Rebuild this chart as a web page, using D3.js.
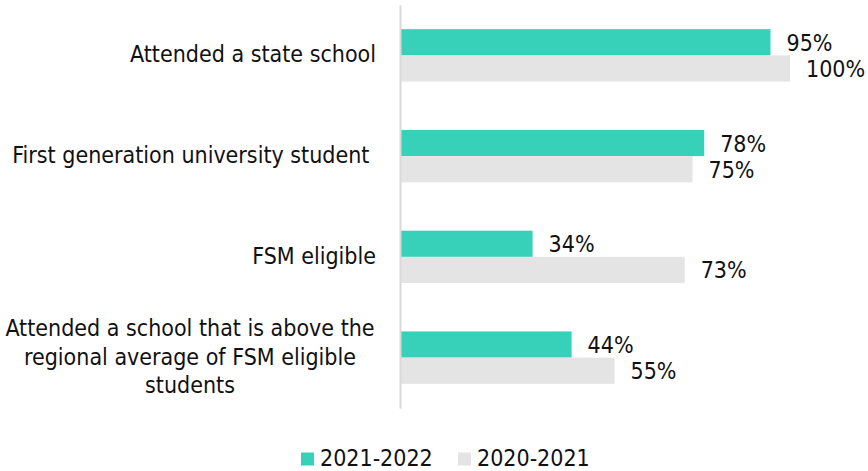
<!DOCTYPE html>
<html>
<head>
<meta charset="utf-8">
<script src="https://cdn.jsdelivr.net/npm/d3@7"></script>
<style>
  html, body { margin: 0; padding: 0; background: #ffffff; }
  svg { display: block; }
  text { font-family: "DejaVu Sans Condensed", "DejaVu Sans", sans-serif; fill: #111111; }
</style>
</head>
<body>
<svg id="chart" width="868" height="471"></svg>
<script>
// Category labels (each entry is a list of wrapped lines)
const categories = [
  ["Attended a state school"],
  ["First generation university student "],
  ["FSM eligible"],
  ["Attended a school that is above the", "regional average of FSM eligible", "students"]
];
const seriesNames = ["2021-2022", "2020-2021"];
const values2122 = [95, 78, 34, 44];
const values2021 = [100, 75, 73, 55];
const seriesColors = ["#37d0b9", "#e4e4e4"];

const catKeys = categories.map((c, i) => "c" + i);
const seriesValues = [values2122, values2021];

const svg = d3.select("#chart");
const fontSize = 23;

const x = d3.scaleLinear().domain([0, 100]).range([400, 790]);
const y = d3.scaleBand().domain(catKeys).range([5, 408])
  .paddingInner(0.48).paddingOuter(0.24);
const ySub = d3.scaleBand().domain(seriesNames).range([0, y.bandwidth()]);

// Bars
const groups = svg.append("g").selectAll("g")
  .data(catKeys)
  .join("g")
  .attr("transform", d => `translate(0,${y(d)})`);

groups.each(function (key, ci) {
  const g = d3.select(this);
  const rows = seriesNames.map((s, si) => ({ s, si, v: seriesValues[si][ci] }));
  g.selectAll("rect")
    .data(rows)
    .join("rect")
    .attr("x", x(0))
    .attr("y", d => ySub(d.s))
    .attr("width", d => x(d.v) - x(0))
    .attr("height", ySub.bandwidth())
    .attr("fill", d => seriesColors[d.si]);
  g.selectAll("text.val")
    .data(rows)
    .join("text")
    .attr("class", "val")
    .attr("x", d => x(d.v) + 16)
    .attr("y", d => ySub(d.s) + ySub.bandwidth() / 2 + 8.5)
    .attr("font-size", fontSize)
    .text(d => d.v + "%");
});

// Vertical category axis line
const axis = svg.append("g")
  .attr("transform", `translate(${x(0)},0)`)
  .call(d3.axisLeft(y).tickSize(0).tickSizeOuter(0).tickFormat(""));
axis.select(".domain").attr("stroke", "#d9d9d9").attr("stroke-width", 2);

// Category labels
const lineH = 28.5;
catKeys.forEach((key, ci) => {
  const lines = categories[ci];
  const cy = y(key) + y.bandwidth() / 2;
  const multi = lines.length > 1;
  const t = svg.append("text")
    .attr("font-size", fontSize)
    .attr("text-anchor", multi ? "middle" : "end")
    .attr("xml:space", "preserve")
    .style("white-space", "pre");
  lines.forEach((ln, li) => {
    t.append("tspan")
      .attr("x", multi ? 190 : 376)
      .attr("y", cy + 7 + (li - (lines.length - 1) / 2) * lineH)
      .text(ln);
  });
});

// Legend
const legend = svg.append("g").attr("transform", "translate(0,452)");
const legendX = [301, 458];
seriesNames.forEach((s, i) => {
  legend.append("rect")
    .attr("x", legendX[i]).attr("y", 0.5)
    .attr("width", 13).attr("height", 13)
    .attr("fill", seriesColors[i]);
  legend.append("text")
    .attr("x", legendX[i] + 19).attr("y", 14)
    .attr("font-size", fontSize)
    .text(s);
});
</script>
</body>
</html>
